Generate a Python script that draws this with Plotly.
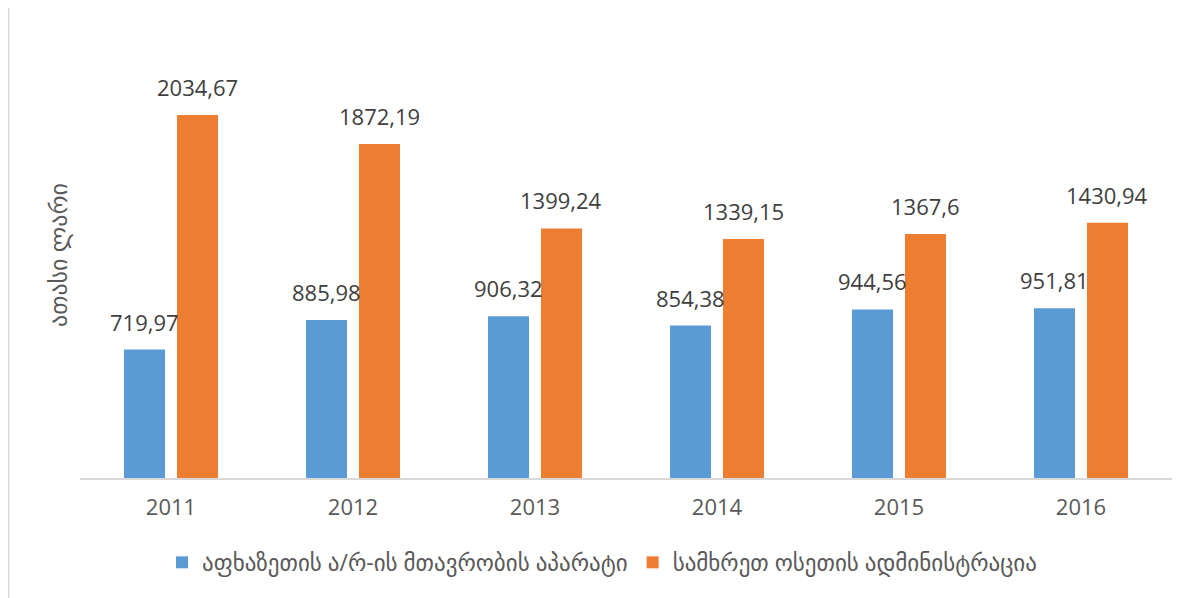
import plotly.graph_objects as go

years = ["2011", "2012", "2013", "2014", "2015", "2016"]
abkhazia = [719.97, 885.98, 906.32, 854.38, 944.56, 951.81]
abkhazia_labels = ["719,97", "885,98", "906,32", "854,38", "944,56", "951,81"]
ossetia = [2034.67, 1872.19, 1399.24, 1339.15, 1367.6, 1430.94]
ossetia_labels = ["2034,67", "1872,19", "1399,24", "1339,15", "1367,6", "1430,94"]
series_names = ["აფხაზეთის ა/რ-ის მთავრობის აპარატი", "სამხრეთ ოსეთის ადმინისტრაცია"]
y_title = "ათასი ლარი"

BLUE = "#5B9BD5"
ORANGE = "#ED7D31"
GRAY = "#595959"
FONT = "Open Sans, DejaVu Sans, sans-serif"

fig = go.Figure()
fig.add_trace(go.Bar(x=years, y=abkhazia, name=series_names[0], marker_color=BLUE,
                     marker_line_width=0))
fig.add_trace(go.Bar(x=years, y=ossetia, name=series_names[1], marker_color=ORANGE,
                     marker_line_width=0))

# page body has an 8px margin -> figure coordinates = screen - 8
W, H = 1186, 590
L, R, T, B = 72, 1164, 24, 470
cat_w = (R - L) / len(years)
bargap = 0.418
slot = cat_w * (1 - bargap) / 2
for vals, labs, sign in ((abkhazia, abkhazia_labels, -1), (ossetia, ossetia_labels, 1)):
    for i, (v, t) in enumerate(zip(vals, labs)):
        fig.add_annotation(x=i, y=v, text=t, showarrow=False, xref="x", yref="y",
                           xshift=sign * slot / 2, yanchor="bottom", yshift=11,
                           font=dict(size=22, color="#404040", family=FONT))

fig.add_shape(type="line", xref="paper", yref="paper",
              x0=(0.5 - L) / (R - L), x1=(0.5 - L) / (R - L), y0=-2, y1=2,
              line=dict(color="#d9d9d9", width=2))

fig.update_layout(
    width=W, height=H,
    margin=dict(l=L, r=W - R, t=T, b=H - B, autoexpand=False),
    paper_bgcolor="white", plot_bgcolor="white",
    barmode="group", bargap=bargap, bargroupgap=0.226,
    font=dict(family=FONT, size=22, color=GRAY),
    showlegend=True,
    legend=dict(orientation="h", x=0.478, xanchor="center", y=-0.141, yanchor="top",
                font=dict(size=23, color=GRAY), itemwidth=30),
    xaxis=dict(type="category", range=[-0.5, len(years) - 0.5], showline=True,
               linecolor="#d9d9d9", linewidth=2, ticks="", ticklabelstandoff=9,
               tickfont=dict(size=22, color=GRAY), showgrid=False),
    yaxis=dict(range=[0, 2500], showticklabels=False, showgrid=False, zeroline=False,
               showline=False, ticks="", automargin=True,
               title=dict(text=y_title, font=dict(size=24, color=GRAY), standoff=4)),
)

fig.write_html("out.html")
